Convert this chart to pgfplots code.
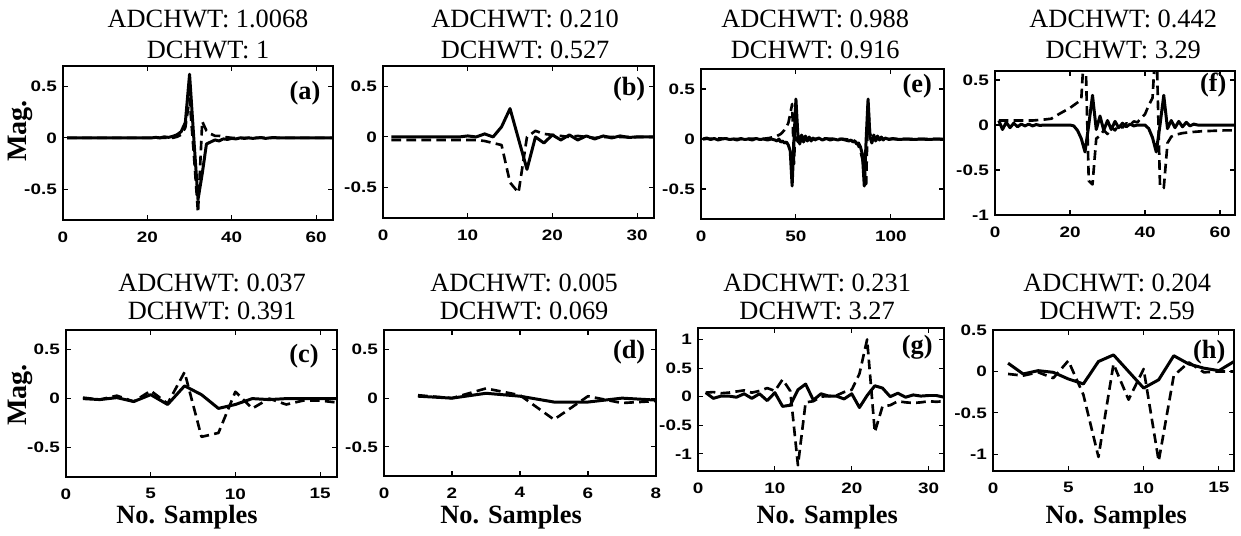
\documentclass[border=0pt]{standalone}
\usepackage{fontspec}
\setmainfont{Liberation Serif}
\newfontfamily\tickfont[FakeStretch=1.25]{Liberation Sans}
\usepackage{pgfplots}
\pgfplotsset{compat=1.18}

\pgfplotsset{
  panel/.style={
    scale only axis, anchor=north west,
    axis line style={line width=0.8pt},
    tick align=inside, major tick length=3pt,
    tick style={line width=0.6pt, black},
    tick label style={font=\tickfont\bfseries\fontsize{8.6}{10}\selectfont},
    xticklabel style={yshift=-3pt},
  },
  sol/.style={black, line width=1.7pt, line join=round, mark=none},
  dsh/.style={black, line width=1.5pt, line join=round, mark=none, dash pattern=on 5.5pt off 3pt},
}

\begin{document}
\begin{tikzpicture}
\useasboundingbox (0,0) rectangle (24.82,-10.70);

% (a)
\begin{axis}[panel, at={(1.26cm,-1.32cm)}, width=5.40cm, height=3.08cm,
  xmin=0, xmax=64, ymin=-0.8, ymax=0.7,
  xtick={0,20,40,60}, xticklabels={0,20,40,60},
  ytick={-0.5,0,0.5}, yticklabels={-0.5,0,0.5}]
\addplot[sol] coordinates {(1,0) (20,0) (21,0) (22,0.005) (23,0) (24,0.01) (25,0.005) (26,0.015) (27,0.03) (28,0.06) (29,0.15) (30,0.62) (31,0) (32,-0.6) (33,-0.35) (34,-0.06) (35,-0.04) (36,-0.02) (37,-0.03) (38,-0.01) (39,-0.015) (40,-0.005) (41,-0.01) (42,0) (43,-0.005) (44,0) (45,-0.005) (46,0) (47,0.003) (48,-0.005) (49,0) (50,0.003) (51,0) (64,0)};
\addplot[dsh] coordinates {(1,0) (26,0) (27,0.01) (28,0.03) (29,0.1) (30,0.38) (31,-0.15) (32,-0.73) (33,0.16) (34,0.07) (35,0.04) (36,0.02) (37,0.02) (38,0.01) (39,0.005) (40,0) (64,0)};
\end{axis}

% (b)
\begin{axis}[panel, at={(7.66cm,-1.32cm)}, width=5.42cm, height=3.04cm,
  xmin=0, xmax=32, ymin=-0.8, ymax=0.7,
  xtick={0,10,20,30}, xticklabels={0,10,20,30},
  ytick={-0.5,0,0.5}, yticklabels={-0.5,0,0.5}]
\addplot[sol] coordinates {(1,0) (9,0) (10,0.01) (11,0) (12,0.03) (13,0) (14,0.1) (15,0.28) (16,-0.02) (17,-0.32) (18,0) (19,-0.06) (20,0.02) (21,-0.03) (22,0.02) (23,-0.03) (24,0.01) (25,-0.02) (26,0.01) (27,-0.01) (28,0.01) (29,-0.005) (30,0) (32,0)};
\addplot[dsh] coordinates {(1,-0.03) (11,-0.03) (12,-0.04) (13,-0.06) (14,-0.08) (15,-0.45) (16,-0.55) (17,0) (18,0.06) (19,0.03) (20,0.02) (21,0.01) (22,0) (23,0.01) (24,0) (25,-0.01) (26,0) (32,0)};
\end{axis}

% (e)
\begin{axis}[panel, at={(14.02cm,-1.38cm)}, width=4.86cm, height=3.00cm,
  xmin=0, xmax=128, ymin=-0.8, ymax=0.7,
  xtick={0,50,100}, xticklabels={0,50,100},
  ytick={-0.5,0,0.5}, yticklabels={-0.5,0,0.5}]
\addplot[sol] coordinates {(1,0) (3,0.01) (5,-0.005) (7,0.005) (9,-0.01) (11,0) (13,0.005) (15,-0.005) (17,0) (19,-0.01) (21,0.005) (23,-0.005) (25,0) (27,-0.01) (29,0.005) (31,-0.005) (33,0) (35,-0.01) (37,0) (39,-0.01) (40,-0.02) (41,0) (42,-0.03) (43,-0.02) (44,-0.04) (45,-0.03) (46,-0.06) (47,-0.12) (48,-0.47) (49,0) (50,0.4) (51,0.05) (52,-0.05) (53,0.04) (54,-0.03) (55,0.03) (56,-0.02) (57,0.02) (58,-0.02) (59,0.01) (60,-0.01) (62,0.01) (64,-0.01) (66,0.005) (68,-0.01) (70,0) (72,-0.01) (74,0) (76,-0.01) (78,-0.02) (79,-0.01) (80,-0.03) (81,-0.02) (82,-0.05) (83,-0.04) (84,-0.08) (85,-0.15) (86,-0.47) (87,0) (88,0.4) (89,0.02) (90,-0.04) (91,0.04) (92,-0.02) (93,0.03) (94,-0.01) (95,0.02) (96,-0.01) (97,0.01) (99,-0.005) (101,0.005) (104,-0.005) (108,0) (112,-0.005) (116,0) (120,-0.005) (124,0) (128,-0.005)};
\addplot[dsh] coordinates {(1,0) (10,0.005) (20,0) (30,0.005) (32,0) (34,0.005) (36,0.01) (38,0.02) (40,0.03) (42,0.05) (43,0.07) (44,0.09) (45,0.12) (46,0.16) (47,0.25) (48,0.35) (49,-0.25) (50,0.3) (51,-0.03) (52,0.03) (53,-0.02) (54,0.02) (55,-0.01) (56,0.01) (57,0) (65,0.005) (75,0) (80,-0.01) (81,-0.02) (82,-0.04) (83,-0.07) (84,-0.12) (85,-0.2) (86,-0.3) (87,-0.45) (88,0.35) (89,0.05) (90,0.02) (91,-0.01) (92,0.01) (93,0) (128,0)};
\end{axis}

% (f)
\begin{axis}[panel, at={(19.90cm,-1.42cm)}, width=4.80cm, height=2.88cm,
  xmin=0, xmax=64, ymin=-1, ymax=0.6,
  xtick={0,20,40,60}, xticklabels={0,20,40,60},
  ytick={-1,-0.5,0,0.5}, yticklabels={-1,-0.5,0,0.5}]
\addplot[sol] coordinates {(1,0.05) (2,-0.05) (3,0.03) (4,-0.03) (5,0.02) (6,-0.02) (7,0.01) (8,-0.01) (9,0.01) (10,-0.01) (11,0.005) (12,-0.005) (13,0) (20,0) (21,-0.01) (22,-0.06) (23,-0.15) (24,-0.3) (25,0) (26,0.33) (27,-0.05) (28,0.1) (29,-0.06) (30,0.05) (31,-0.05) (32,0.04) (33,-0.03) (34,0.02) (35,-0.02) (36,0.01) (37,-0.01) (38,0) (40,0) (41,-0.04) (42,-0.14) (43,-0.3) (44,0) (45,0.33) (46,-0.04) (47,0.05) (48,-0.03) (49,0.04) (50,-0.02) (51,0.03) (52,-0.01) (53,0.01) (54,0) (64,0)};
\addplot[dsh] coordinates {(1,0.05) (10,0.05) (13,0.06) (15,0.07) (17,0.12) (20,0.19) (22,0.25) (23,0.28) (24,1.0) (25,-0.62) (26,-0.66) (27,-0.15) (28,-0.12) (29,-0.06) (30,-0.1) (31,-0.02) (32,-0.06) (33,0) (34,-0.03) (35,0.02) (36,0) (37,0.04) (38,0.03) (39,0.08) (40,0.12) (41,0.22) (42,0.3) (43,1.0) (44,-0.68) (45,-0.7) (46,-0.2) (47,-0.13) (48,-0.11) (49,-0.1) (50,-0.09) (52,-0.08) (55,-0.07) (58,-0.065) (61,-0.06) (64,-0.06)};
\end{axis}

% (c)
\begin{axis}[panel, at={(1.32cm,-6.60cm)}, width=5.42cm, height=2.94cm,
  xmin=0, xmax=16, ymin=-0.8, ymax=0.7,
  xtick={0,5,10,15}, xticklabels={0,5,10,15},
  ytick={-0.5,0,0.5}, yticklabels={-0.5,0,0.5}]
\addplot[sol] coordinates {(1,0) (2,-0.01) (3,0.01) (4,-0.03) (5,0.04) (6,-0.06) (7,0.13) (8,0.04) (9,-0.1) (10,-0.06) (11,0) (12,-0.01) (13,0) (14,0) (15,0) (16,0)};
\addplot[dsh] coordinates {(1,0.01) (2,-0.01) (3,0.03) (4,-0.03) (5,0.08) (6,-0.05) (7,0.27) (8,-0.39) (9,-0.35) (10,0.07) (11,-0.1) (12,0) (13,-0.06) (14,-0.02) (15,-0.02) (16,-0.04)};
\end{axis}

% (d)
\begin{axis}[panel, at={(7.68cm,-6.60cm)}, width=5.44cm, height=2.92cm,
  xmin=0, xmax=8, ymin=-0.8, ymax=0.7,
  xtick={0,2,4,6,8}, xticklabels={0,2,4,6,8},
  ytick={-0.5,0,0.5}, yticklabels={-0.5,0,0.5}]
\addplot[sol] coordinates {(1,0.02) (2,0) (3,0.05) (4,0.02) (5,-0.04) (6,-0.04) (7,0) (8,-0.02)};
\addplot[dsh] coordinates {(1,0.03) (2,0) (3,0.1) (4,0.03) (5,-0.22) (6,0.02) (7,-0.05) (8,-0.03)};
\end{axis}

% (g)
\begin{axis}[panel, at={(13.96cm,-6.56cm)}, width=4.92cm, height=2.86cm,
  xmin=0, xmax=32, ymin=-1.3, ymax=1.2,
  xtick={0,10,20,30}, xticklabels={0,10,20,30},
  ytick={-1,-0.5,0,0.5,1}, yticklabels={-1,-0.5,0,0.5,1}]
\addplot[sol] coordinates {(1,0.07) (2,-0.03) (3,0.01) (4,0.01) (5,-0.01) (6,0.05) (7,-0.03) (8,0.05) (9,-0.07) (10,0.07) (11,-0.17) (12,-0.15) (13,0.12) (14,0.22) (15,-0.06) (16,0.05) (17,0.01) (18,0.01) (19,-0.04) (20,0.05) (21,-0.19) (22,0.02) (23,0.19) (24,0.15) (25,0) (26,0.06) (27,-0.01) (28,0.03) (29,0.01) (30,0.02) (31,0.02) (32,-0.01)};
\addplot[dsh] coordinates {(1,0.07) (2,0.08) (3,0.06) (4,0.07) (5,0.09) (6,0.11) (7,0.07) (8,0.1) (9,0.15) (10,0.1) (11,0.3) (12,0.1) (13,-1.2) (14,-0.1) (15,-0.08) (16,0) (17,0.01) (18,0.02) (19,0.08) (20,0.12) (21,0.4) (22,1.0) (23,-0.62) (24,-0.17) (25,-0.15) (26,-0.08) (27,-0.1) (28,-0.11) (29,-0.1) (30,-0.08) (31,-0.09) (32,-0.08)};
\end{axis}

% (h)
\begin{axis}[panel, at={(19.86cm,-6.60cm)}, width=4.82cm, height=2.82cm,
  xmin=0, xmax=16, ymin=-1.2, ymax=0.5,
  xtick={0,5,10,15}, xticklabels={0,5,10,15},
  ytick={-1,-0.5,0,0.5}, yticklabels={-1,-0.5,0,0.5}]
\addplot[sol] coordinates {(1,0.1) (2,-0.03) (3,0.01) (4,-0.01) (5,-0.09) (6,-0.15) (7,0.12) (8,0.2) (9,0) (10,-0.2) (11,-0.1) (12,0.19) (13,0.09) (14,0.04) (15,0.01) (16,0.12)};
\addplot[dsh] coordinates {(1,-0.03) (2,-0.05) (3,-0.01) (4,-0.08) (5,0.13) (6,-0.28) (7,-1.03) (8,0.09) (9,-0.34) (10,0.03) (11,-1.08) (12,-0.05) (13,0.11) (14,-0.01) (15,0) (16,0)};
\end{axis}

% titles, panel letters and axis labels
\begin{scope}[x=0.02cm, y=-0.02cm, every node/.style={inner sep=0pt}]
\tikzset{ttl/.style={anchor=base, font=\fontsize{15}{18}\selectfont},
         lbl/.style={font=\bfseries\fontsize{15}{18}\selectfont}}
\node[ttl] at (208,27) {ADCHWT: 1.0068};
\node[ttl] at (208,58) {DCHWT: 1};
\node[ttl] at (525,27) {ADCHWT: 0.210};
\node[ttl] at (525,58) {DCHWT: 0.527};
\node[ttl] at (815,27) {ADCHWT: 0.988};
\node[ttl] at (815,58) {DCHWT: 0.916};
\node[ttl] at (1123,27) {ADCHWT: 0.442};
\node[ttl] at (1123,58) {DCHWT: 3.29};
\node[ttl] at (212,291) {ADCHWT: 0.037};
\node[ttl] at (212,319) {DCHWT: 0.391};
\node[ttl] at (524,291) {ADCHWT: 0.005};
\node[ttl] at (524,319) {DCHWT: 0.069};
\node[ttl] at (817,291) {ADCHWT: 0.231};
\node[ttl] at (817,319) {DCHWT: 3.27};
\node[ttl] at (1117,291) {ADCHWT: 0.204};
\node[ttl] at (1117,319) {DCHWT: 2.59};
\node[lbl] at (305,93) {(a)};
\node[lbl] at (629,89) {(b)};
\node[lbl] at (917,86) {(e)};
\node[lbl] at (1213,85) {(f)};
\node[lbl] at (304,356) {(c)};
\node[lbl] at (629,352) {(d)};
\node[lbl] at (917,347) {(g)};
\node[lbl] at (1209,352) {(h)};
\node[lbl, rotate=90, font=\bfseries\fontsize{16}{18}\selectfont] at (20,131) {Mag.};
\node[lbl, rotate=90, font=\bfseries\fontsize{16}{18}\selectfont] at (20,395) {Mag.};
\node[lbl, anchor=base] at (187,523) {No. Samples};
\node[lbl, anchor=base] at (511,523) {No. Samples};
\node[lbl, anchor=base] at (827,523) {No. Samples};
\node[lbl, anchor=base] at (1116,523) {No. Samples};
\end{scope}
\end{tikzpicture}
\end{document}
